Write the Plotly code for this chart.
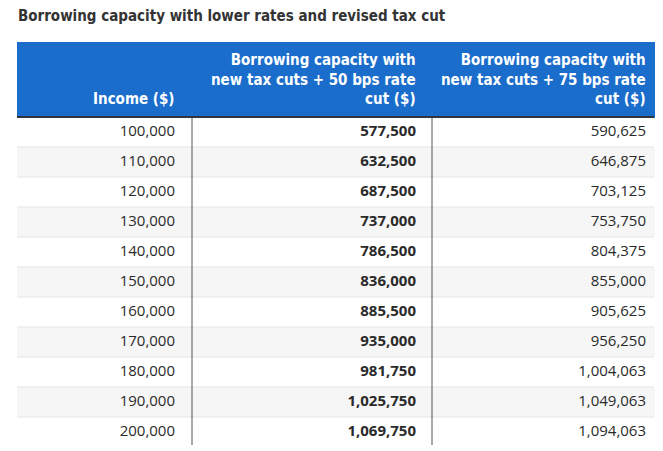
import plotly.graph_objects as go

W, H = 663, 451
OFF = 8  # default page margin of the html body

title = "Borrowing capacity with lower rates and revised tax cut"
col_headers = [
    "Income ($)",
    "Borrowing capacity with<br>new tax cuts + 50 bps rate<br>cut ($)",
    "Borrowing capacity with<br>new tax cuts + 75 bps rate<br>cut ($)",
]
income = [100000, 110000, 120000, 130000, 140000, 150000, 160000, 170000, 180000, 190000, 200000]
cap_50bps = [577500, 632500, 687500, 737000, 786500, 836000, 885500, 935000, 981750, 1025750, 1069750]
cap_75bps = [590625, 646875, 703125, 753750, 804375, 855000, 905625, 956250, 1004063, 1049063, 1094063]

# layout constants (window pixels)
TOP = 42
HEADER_H = 75
ROW_H = 30
LEFT = 17
RIGHT = 654
COLW = [166, 241, 230]
VLINES = [192, 432]
CELL_PAD = 6

BLUE = "#1b6dcc"
ROW_FILLS = ["#ffffff" if i % 2 == 0 else "#f6f6f6" for i in range(len(income))]
HFONT = "Liberation Sans Narrow, DejaVu Sans Condensed, sans-serif"

fmt = lambda v: f"{v:,}"
cells = [
    [fmt(v) for v in income],
    [fmt(v) for v in cap_50bps],
    [fmt(v) for v in cap_75bps],
]

def px_x(x):
    return (x - OFF) / W

def px_y(y):
    return 1 - (y - OFF) / H

fig = go.Figure(
    go.Table(
        domain=dict(x=[px_x(LEFT), px_x(RIGHT)], y=[0, px_y(TOP)]),
        columnwidth=COLW,
        header=dict(
            values=["", "", ""],
            align="right",
            height=HEADER_H,
            fill_color=BLUE,
            line=dict(color=BLUE, width=1),
            font=dict(family=HFONT, size=15, color="white", weight=700),
        ),
        cells=dict(
            values=cells,
            align="right",
            height=ROW_H,
            fill_color=[ROW_FILLS],
            line=dict(color=[ROW_FILLS], width=1),
            font=dict(family="Open Sans, Noto Sans, sans-serif", size=15, color="#2a2a2a",
                      weight=[400, 700, 400]),
        ),
    )
)

shapes = []
body_top = TOP + HEADER_H
body_bottom = body_top + ROW_H * len(income)
for k in range(1, len(income)):
    y = body_top + ROW_H * k
    shapes.append(dict(type="line", xref="paper", yref="paper",
                       x0=px_x(LEFT), x1=px_x(RIGHT), y0=px_y(y), y1=px_y(y),
                       line=dict(color="#e6e6e6", width=1)))
for x in VLINES:
    shapes.append(dict(type="line", xref="paper", yref="paper",
                       x0=px_x(x), x1=px_x(x), y0=px_y(body_top), y1=px_y(body_bottom - 2),
                       line=dict(color="#555555", width=1)))
shapes.append(dict(type="line", xref="paper", yref="paper",
                   x0=px_x(LEFT), x1=px_x(RIGHT), y0=px_y(body_top), y1=px_y(body_top),
                   line=dict(color="#2f3640", width=2)))

# header labels, right-aligned line by line, bottom-aligned in the header
annotations = [dict(text=title, x=px_x(16), y=px_y(16), xref="paper", yref="paper",
                    xanchor="left", yanchor="middle", showarrow=False,
                    font=dict(family=HFONT, size=15, color="#333333", weight=700))]
right_edge = LEFT
for label, w in zip(col_headers, COLW):
    right_edge += w
    annotations.append(dict(
        text=label, x=px_x(right_edge - CELL_PAD), y=px_y(TOP + HEADER_H - 7),
        xref="paper", yref="paper", xanchor="right", yanchor="bottom",
        align="right", showarrow=False,
        font=dict(family=HFONT, size=15, color="white", weight=700)))

fig.update_layout(
    width=W, height=H,
    margin=dict(l=0, r=0, t=0, b=0),
    paper_bgcolor="white",
    shapes=shapes,
    annotations=annotations,
)

fig.write_html("out.html")
